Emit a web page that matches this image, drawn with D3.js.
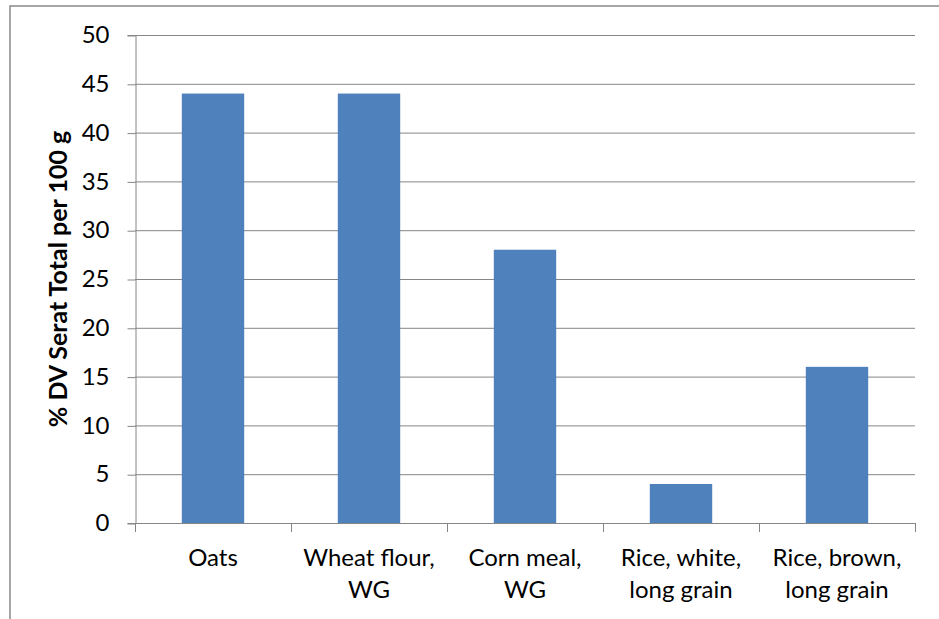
<!DOCTYPE html>
<html>
<head>
<meta charset="utf-8">
<script src="https://cdn.jsdelivr.net/npm/d3@7"></script>
<style>
  body { margin: 0; background: #fff; }
  svg text { font-family: Lato, "Open Sans", sans-serif; fill: #000; }
</style>
</head>
<body>
<div class="graf"></div>
<script>
// data
const categories = [
  ["Oats"],
  ["Wheat flour,", "WG"],
  ["Corn meal,", "WG"],
  ["Rice, white,", "long grain"],
  ["Rice, brown,", "long grain"]
];
const values = [44, 44, 28, 4, 16];
const yTicks = [0, 5, 10, 15, 20, 25, 30, 35, 40, 45, 50];
const yTitle = "% DV Serat Total per 100 g";

main()
function main(){
    const width = 939, height = 619;
    const left = 135, right = 915, top = 35, bottom = 523;

    let svg = d3.select('.graf')
        .append('svg')
        .attr('width', width)
        .attr('height', height);

    // outer frame
    svg.append('rect')
        .attr('x', 10).attr('y', 6)
        .attr('width', 960).attr('height', 700)
        .attr('fill', 'none')
        .attr('stroke', '#898989')
        .attr('stroke-width', 1.5);

    let x = d3.scaleBand()
        .domain(d3.range(categories.length))
        .range([left, right])
        .paddingInner(0.6)
        .paddingOuter(0.3);

    let y = d3.scaleLinear()
        .domain([0, 50])
        .range([bottom, top]);

    // gridlines
    svg.append('g')
        .selectAll('line')
        .data(yTicks.filter(d => d > 0))
        .join('line')
        .attr('x1', left).attr('x2', right)
        .attr('y1', d => y(d) + 0.5).attr('y2', d => y(d) + 0.5)
        .attr('stroke', '#868686')
        .attr('stroke-width', 1);

    // bars
    svg.append('g')
        .selectAll('rect')
        .data(values)
        .join('rect')
        .attr('x', (d, i) => x(i))
        .attr('width', x.bandwidth())
        .attr('y', d => y(d))
        .attr('height', d => y(0) - y(d))
        .attr('fill', '#4F81BD');

    // y axis
    let yAxis = svg.append('g')
        .attr('transform', `translate(${left + 0.5},0)`)
        .call(d3.axisLeft(y).tickValues(yTicks).tickSize(8).tickPadding(18))
        .attr('font-size', 24)
        .attr('font-family', 'Lato, sans-serif');
    yAxis.select('.domain').attr('stroke', '#868686');
    yAxis.selectAll('.tick line').attr('stroke', '#868686').attr('transform', 'translate(0,0.5)');
    yAxis.selectAll('.tick text')
        .style('font-size', '24px')
        .attr('fill', '#000');

    // x axis line and ticks
    let xg = svg.append('g');
    xg.append('line')
        .attr('x1', left).attr('x2', right)
        .attr('y1', bottom + 0.5).attr('y2', bottom + 0.5)
        .attr('stroke', '#868686');
    let step = x.step();
    xg.selectAll('.xt')
        .data(d3.range(categories.length + 1))
        .join('line')
        .attr('class', 'xt')
        .attr('x1', i => left + i * step + 0.5).attr('x2', i => left + i * step + 0.5)
        .attr('y1', bottom).attr('y2', bottom + 9)
        .attr('stroke', '#868686');

    // category labels
    xg.selectAll('.xl')
        .data(categories)
        .join('text')
        .attr('class', 'xl')
        .attr('text-anchor', 'middle')
        .style('font-size', '24px')
        .attr('x', (d, i) => x(i) + x.bandwidth() / 2)
        .attr('y', 566)
        .selectAll('tspan')
        .data(d => d)
        .join('tspan')
        .attr('x', function(){ return this.parentNode.getAttribute('x'); })
        .attr('dy', (d, i) => i === 0 ? 0 : 32)
        .text(d => d);

    // y title
    svg.append('text')
        .attr('transform', `translate(67,${(top + bottom) / 2}) rotate(-90)`)
        .attr('text-anchor', 'middle')
        .style('font-size', '25px')
        .attr('font-weight', 'bold')
        .text(yTitle);
}
</script>
</body>
</html>
